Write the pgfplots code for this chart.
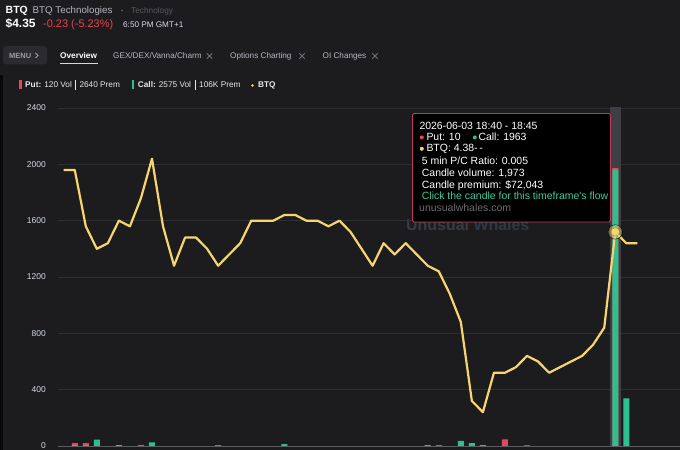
\documentclass[border=0pt]{standalone}
\usepackage{pgfplots}
\pgfplotsset{compat=1.18}
\usepackage{fontspec}
\setmainfont{Liberation Sans}
\definecolor{bgc}{HTML}{1C1C1F}
\definecolor{gridc}{HTML}{2D2E33}
\definecolor{axisc}{HTML}{5C5D62}
\definecolor{tickc}{HTML}{D5DAE4}
\definecolor{linec}{HTML}{F7D56E}
\definecolor{greenc}{HTML}{2EBF8E}
\definecolor{redc}{HTML}{E8455C}
\definecolor{bandc}{HTML}{3E3F45}
\definecolor{tipborder}{HTML}{C23A55}
\definecolor{tealc}{HTML}{3CCB9E}
\definecolor{hdrgrey}{HTML}{B3B6BD}
\definecolor{dimc}{HTML}{56585F}
\definecolor{pricered}{HTML}{E8424E}
\definecolor{menuc}{HTML}{2B2B2F}
\definecolor{menutext}{HTML}{9EA0A6}
\definecolor{tabc}{HTML}{B5B9C1}
\definecolor{xc}{HTML}{6E7178}
\definecolor{wma}{HTML}{383C42}
\definecolor{wmb}{HTML}{2B3A4A}
\definecolor{urlc}{HTML}{6A6D74}
\definecolor{legtext}{HTML}{E6E7EA}
\pgfplotstableread{
i v
0 1960
1 1960
2 1560
3 1400
4 1440
5 1600
6 1560
7 1760
8 2040
9 1560
10 1280
11 1480
12 1480
13 1400
14 1280
15 1360
16 1440
17 1600
18 1600
19 1600
20 1640
21 1640
22 1600
23 1600
24 1560
25 1600
26 1520
27 1400
28 1280
29 1440
30 1360
31 1440
32 1360
33 1280
34 1240
35 1080
36 880
37 320
38 240
39 520
40 520
41 560
42 640
43 600
44 520
45 560
46 600
47 640
48 720
49 840
50 1520
51 1440
52 1440
}\pricedata
\begin{document}
\begin{tikzpicture}[x=1bp,y=1bp]
\fill[bgc] (0,0) rectangle (680,450);
\useasboundingbox (0,0) rectangle (680,450);
\fill[black!70!bgc] (0,0) rectangle (2.5,375);
% header
\node[anchor=base west, inner sep=0, text=white, font=\bfseries\fontsize{10.5}{12}\selectfont] at (5.5,436.5) {BTQ};
\node[anchor=base west, inner sep=0, text=hdrgrey, font=\fontsize{9.8}{12}\selectfont] at (32.5,436.5) {BTQ Technologies};
\fill[dimc] (122,439.5) circle (1.1);
\node[anchor=base west, inner sep=0, text=dimc, font=\fontsize{8.3}{10}\selectfont] at (131,436.5) {Technology};
\node[anchor=base west, inner sep=0, text=white, font=\bfseries\fontsize{12}{14}\selectfont] at (5.5,422) {\$4.35};
\node[anchor=base west, inner sep=0, text=pricered, font=\fontsize{11}{13}\selectfont] at (43,422) {-0.23 (-5.23\%)};
\node[anchor=base west, inner sep=0, text=tickc, font=\fontsize{8.2}{10}\selectfont] at (123,422.5) {6:50 PM GMT+1};
% menu / tabs
\fill[menuc, rounded corners=3] (3,385.5) rectangle (47,404);
\node[anchor=base west, inner sep=0, text=menutext, font=\bfseries\fontsize{7.5}{9}\selectfont] at (9,391.3) {MENU};
\draw[menutext, line width=0.9] (35.5,397) -- (38,394.5) -- (35.5,392);
\node[anchor=base west, inner sep=0, text=white, font=\bfseries\fontsize{8.3}{10}\selectfont] at (60,391) {Overview};
\fill[white!85!black] (60,385.7) rectangle (97.5,387.2);
\node[anchor=base west, inner sep=0, text=tabc, font=\fontsize{8.2}{10}\selectfont] at (113,391) {GEX/DEX/Vanna/Charm};
\node[anchor=base west, inner sep=0, text=tabc, font=\fontsize{8.2}{10}\selectfont] at (230,391) {Options Charting};
\node[anchor=base west, inner sep=0, text=tabc, font=\fontsize{8.2}{10}\selectfont] at (322.5,391) {OI Changes};
\foreach \cx in {209.5,302,375}{
  \draw[xc, line width=0.8] (\cx-2.7,391.3) -- (\cx+2.7,396.7) (\cx-2.7,396.7) -- (\cx+2.7,391.3);
}
% legend
\fill[redc] (19,360.5) rectangle (21.5,370);
\node[anchor=base west, inner sep=0, text=legtext, font=\fontsize{8.3}{10}\selectfont] at (25,362.3) {\textbf{Put:} 120 Vol};
\draw[legtext, line width=0.6] (75.5,360) -- (75.5,370);
\node[anchor=base west, inner sep=0, text=legtext, font=\fontsize{8.3}{10}\selectfont] at (79.3,362.3) {2640 Prem};
\fill[greenc] (131.7,360.5) rectangle (134.2,370);
\node[anchor=base west, inner sep=0, text=legtext, font=\fontsize{8.3}{10}\selectfont] at (137.7,362.3) {\textbf{Call:} 2575 Vol};
\draw[legtext, line width=0.6] (195.3,360) -- (195.3,370);
\node[anchor=base west, inner sep=0, text=legtext, font=\fontsize{8.3}{10}\selectfont] at (199,362.3) {106K Prem};
\fill[linec] (252.5,364.5) circle (1.4);
\node[anchor=base west, inner sep=0, text=legtext, font=\bfseries\fontsize{8.3}{10}\selectfont] at (258,362.3) {BTQ};
% watermark
\node[anchor=west, inner sep=0, font=\bfseries\fontsize{16}{18}\selectfont] at (406,225) {\textcolor{wma}{Unusual} \textcolor{wmb}{Whales}};
\begin{axis}[
  at={(58bp,4bp)}, anchor=south west,
  scale only axis, width=622bp, height=338bp,
  xmin=-0.52, xmax=55.87, ymin=0, ymax=2400,
  axis x line=bottom, axis y line=left,
  x axis line style={-, draw=axisc, line width=0.9bp},
  y axis line style={draw=none},
  xtick=\empty,
  ytick={0,400,800,1200,1600,2000,2400},
  ymajorgrids, grid style={draw=gridc, line width=0.7bp},
  major tick length=0pt, tick style={draw=none},
  yticklabel style={font=\fontsize{8.5}{10}\selectfont, text=tickc, anchor=east, inner sep=0pt, xshift=-12bp},
  /pgf/number format/1000 sep={}, /pgf/number format/assume math mode=true,
  clip=false,
]
\fill[bandc] (axis cs:49.48,0) rectangle (axis cs:50.52,2410);
\addplot[ybar, bar width=6bp, bar shift=0pt, fill=redc, draw=none] coordinates {(1,20) (2,20) (7,8) (14,6) (34,6) (40,47) (50,1973)};
\addplot[ybar, bar width=6bp, bar shift=0pt, fill=greenc, draw=none] coordinates {(1,6) (2,6) (3,46) (5,7) (8,26) (20,14) (33,6) (36,36) (37,20) (38,6) (42,5) (50,1963) (51,338)};
\addplot[linec, line width=2.2bp, line join=round, mark=none] table[x=i, y=v] {\pricedata};
\addplot[only marks, mark=*, mark size=7.2bp, mark options={fill=linec, draw=none, fill opacity=0.4}] coordinates {(50,1520)};
\addplot[only marks, mark=*, mark size=4.3bp, mark options={fill=linec, draw=linec!70!black, line width=0.6bp}] coordinates {(50,1520)};
\end{axis}
% tooltip
\draw[tipborder, line width=0.8, rounded corners=1.5, fill=black] (412.5,336.5) rectangle (610.5,228);
\begin{scope}[every node/.style={anchor=base west, inner sep=0, text=white, font=\fontsize{10.5}{12}\selectfont}]
\node at (419.3,320.7) {2026-06-03 18:40 - 18:45};
\fill[redc] (421.8,312.6) circle (2);
\node at (426.3,309.3) {Put: 10};
\fill[greenc] (474.8,312.6) circle (2);
\node at (478.3,309.3) {Call: 1963};
\fill[linec] (421.8,301.2) circle (2);
\node at (426.3,298) {BTQ: 4.38-\,-};
\node at (421.7,285.7) {5 min P/C Ratio: 0.005};
\node at (421.7,273.7) {Candle volume: 1,973};
\node at (421.7,261.7) {Candle premium: \$72,043};
\node[text=tealc] at (421.7,250.3) {Click the candle for this timeframe\textquotesingle s flow};
\node[text=urlc] at (419,238.3) {unusualwhales.com};
\end{scope}
\end{tikzpicture}
\end{document}
